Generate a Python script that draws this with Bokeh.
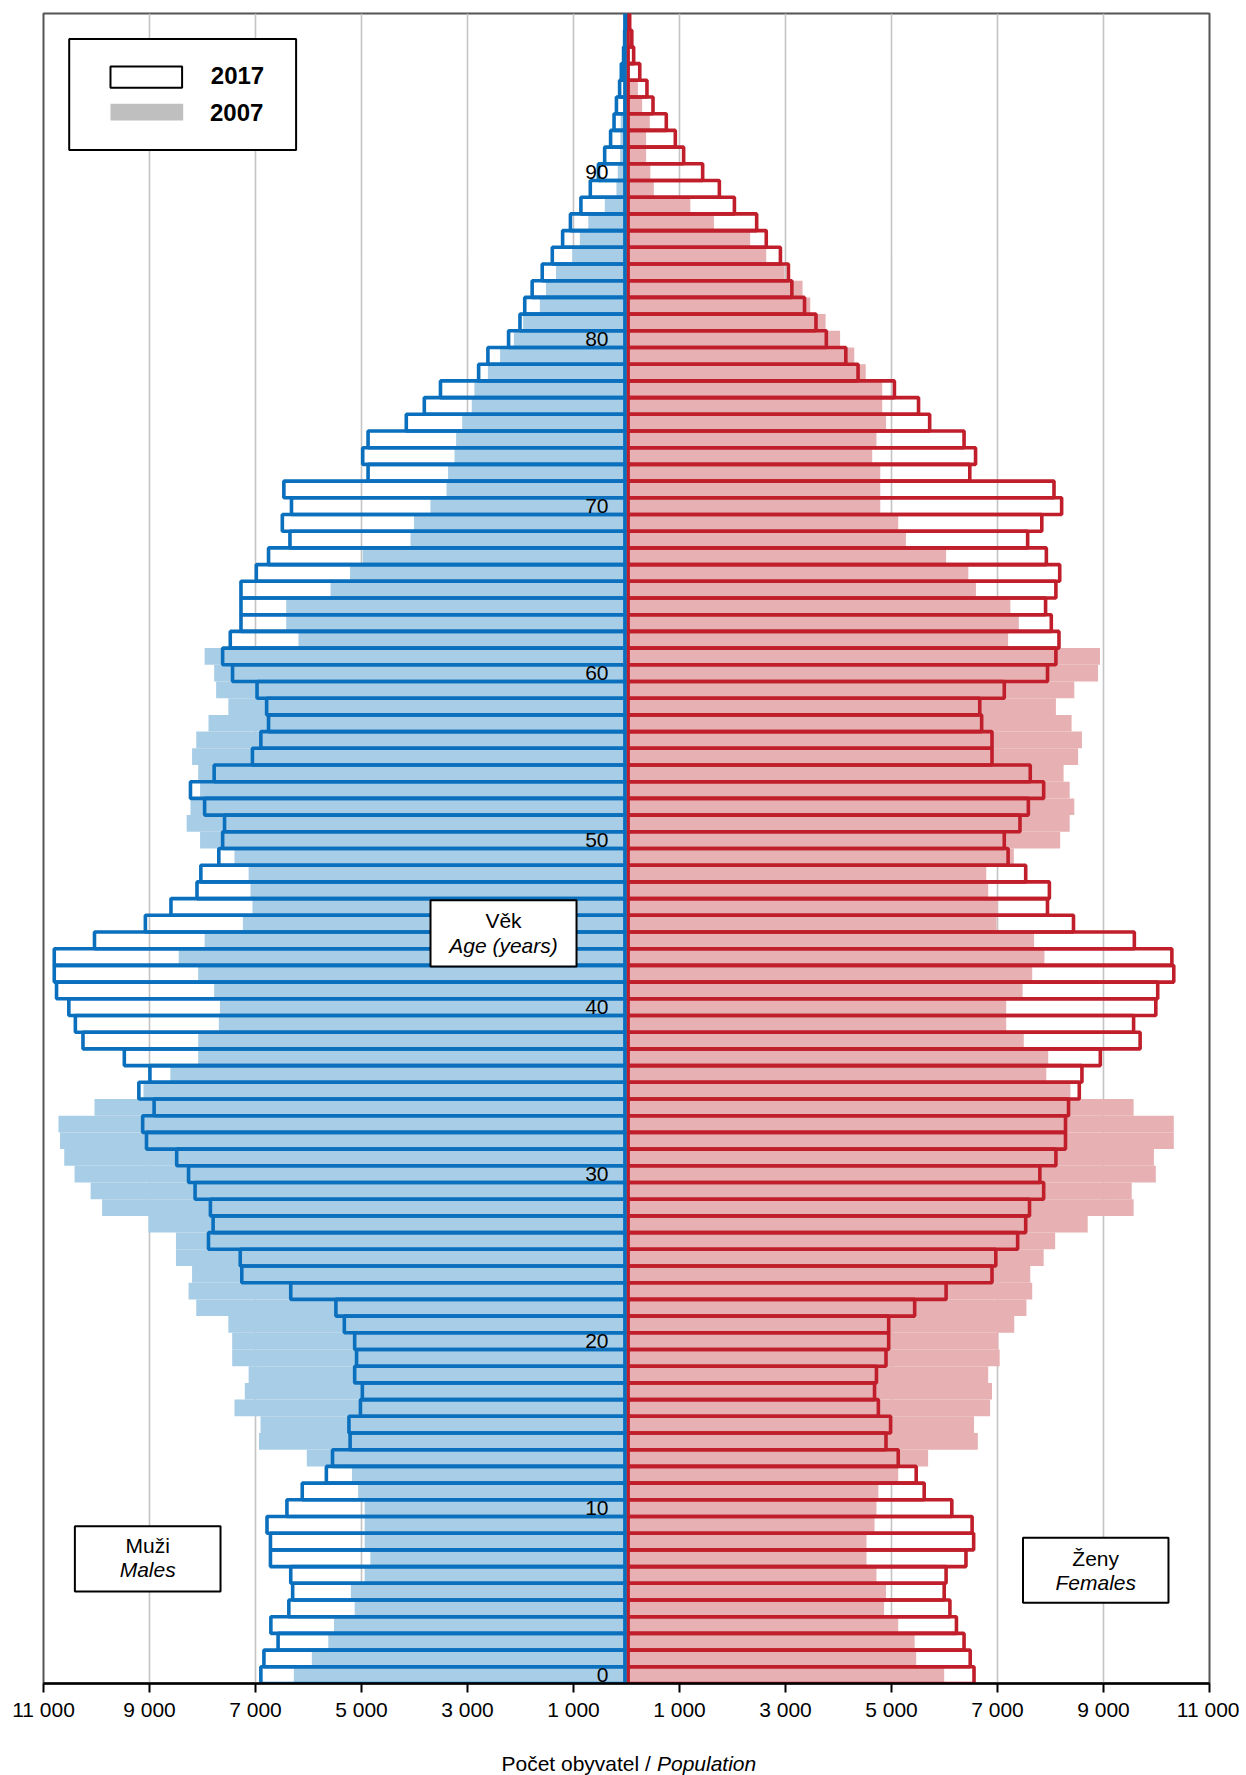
from bokeh.plotting import figure
from bokeh.layouts import column
from bokeh.models import Range1d, FixedTicker, ColumnDataSource, BoxAnnotation, Label
from bokeh.core.properties import value
from bokeh.embed import file_html
from bokeh.resources import INLINE

# ---------------- data ----------------
ages = list(range(100))

male_2017 = [6899, 6841, 6574, 6710, 6371, 6299, 6335, 6718, 6718, 6783,
             6407, 6118, 5663, 5547, 5215, 5237, 5020, 4984, 5129, 5093,
             5129, 5324, 5483, 6335, 7259, 7288, 7887, 7800, 7851, 8140,
             8263, 8487, 9057, 9129, 8913, 9201, 8992, 9475, 10255, 10399,
             10522, 10754, 10797, 10797, 10038, 9078, 8595, 8104, 8031, 7692,
             7620, 7584, 7960, 8227, 7780, 7058, 6899, 6754, 6790, 6971,
             7433, 7620, 7476, 7274, 7274, 7274, 6985, 6754, 6350, 6494,
             6321, 6465, 4876, 4977, 4876, 4155, 3815, 3510, 2790, 2615,
             2225, 2010, 1920, 1780, 1590, 1400, 1205, 1058, 860, 683,
             530, 412, 300, 235, 190, 130, 98, 55, 35, 20]

male_2007 = [6277, 5937, 5627, 5519, 5129, 5201, 4941, 4833, 4941, 4941,
             4941, 5064, 5180, 6032, 6934, 6905, 7397, 7202, 7130, 7440,
             7440, 7512, 8118, 8263, 8197, 8501, 8501, 9021, 9894, 10111,
             10414, 10609, 10688, 10717, 10038, 9114, 8607, 8082, 8082, 7692,
             7671, 7780, 8082, 8449, 7960, 7238, 7058, 7094, 7130, 7397,
             8046, 8299, 8227, 8046, 8082, 8197, 8118, 7887, 7512, 7743,
             7780, 7960, 6190, 6421, 6421, 5584, 5216, 4977, 4075, 4010,
             3699, 3396, 3367, 3245, 3215, 3100, 2920, 2870, 2615, 2385,
             2125, 1950, 1635, 1520, 1330, 1025, 880, 720, 410, 190,
             165, 120, 115, 110, 60, 35, 20, 10, 5, 2]

female_2017 = [6557, 6485, 6369, 6225, 6102, 5994, 6030, 6405, 6550, 6521,
               6138, 5617, 5466, 5127, 4896, 4983, 4752, 4680, 4716, 4896,
               4947, 4947, 5437, 6030, 6896, 6968, 7380, 7532, 7604, 7871,
               7799, 8102, 8283, 8283, 8340, 8543, 8593, 8940, 9691, 9568,
               9987, 10023, 10326, 10290, 9582, 8434, 7943, 7979, 7532, 7200,
               7128, 7424, 7582, 7871, 7618, 6896, 6896, 6701, 6665, 7128,
               7944, 8102, 8160, 8015, 7907, 8102, 8174, 7922, 7569, 7836,
               8210, 8066, 6477, 6586, 6369, 5720, 5510, 5055, 4369, 4138,
               3770, 3575, 3359, 3120, 3055, 2904, 2637, 2456, 2036, 1752,
               1437, 1078, 921, 751, 500, 386, 250, 135, 100, 60]

female_2007 = [5994, 5466, 5437, 5127, 4860, 4896, 4716, 4528, 4528, 4680,
               4716, 4752, 5127, 5691, 6629, 6557, 6860, 6896, 6824, 7041,
               7019, 7316, 7546, 7655, 7618, 7871, 8088, 8702, 9568, 9532,
               9987, 9951, 10326, 10326, 9568, 8376, 7921, 7957, 7496, 7164,
               7164, 7474, 7655, 7885, 7690, 6983, 7004, 6824, 6788, 7308,
               8182, 8362, 8449, 8362, 8247, 8521, 8593, 8398, 8102, 8449,
               8897, 8933, 7200, 7402, 7243, 6593, 6449, 6030, 5272, 5127,
               4788, 4788, 4788, 4636, 4716, 4897, 4825, 4825, 4514, 4297,
               4030, 3756, 3467, 3322, 2983, 2637, 2333, 1650, 1205, 515,
               450, 370, 370, 440, 295, 215, 60, 25, 12, 5]

age_ticks = [0, 10, 20, 30, 40, 50, 60, 70, 80, 90]
x_ticks = [-11000, -9000, -7000, -5000, -3000, -1000, 1000, 3000, 5000, 7000, 9000, 11000]
x_tick_labels = ["11 000", "9 000", "7 000", "5 000", "3 000", "1 000",
                 "1 000", "3 000", "5 000", "7 000", "9 000", "11 000"]
legend_labels = ["2017", "2007"]
x_title_parts = ["Počet obyvatel /", "Population"]

# ---------------- styles ----------------
FONT = "Liberation Sans"
BLUE = "#0a6fbd"
LIGHT_BLUE = "#a8cee7"
RED = "#c01e2a"
PINK = "#e7b0b3"
GAP = 30  # small gap so both centre lines are visible

LEFT, RIGHT, FW = 43, 30, 1166

src = ColumnDataSource(dict(
    y=[a + 0.5 for a in ages],
    m17=[-v for v in male_2017],
    m07=[-v for v in male_2007],
    f17=female_2017,
    f07=female_2007,
))

xr = Range1d(-11000, 11000)
p = figure(frame_width=FW, frame_height=1670,
           x_range=xr, y_range=Range1d(0, 100),
           output_backend="svg", toolbar_location=None,
           min_border_left=LEFT, min_border_top=13, min_border_right=RIGHT,
           min_border_bottom=48)

p.background_fill_color = "white"
p.border_fill_color = "white"
p.outline_line_color = "#555555"
p.outline_line_width = 2

# grid
p.ygrid.visible = False
p.xgrid.ticker = FixedTicker(ticks=x_ticks)
p.xgrid.grid_line_color = "#c4c4c4"
p.xgrid.grid_line_width = 1.6

# axes
p.yaxis.visible = False
ax = p.xaxis[0]
ax.ticker = FixedTicker(ticks=x_ticks, minor_ticks=[])
ax.major_label_overrides = {t: l for t, l in zip(x_ticks, x_tick_labels)}
ax.major_label_text_font = FONT
ax.major_label_text_font_size = "21px"
ax.major_label_text_color = "black"
ax.major_label_standoff = 5
ax.axis_line_color = "black"
ax.axis_line_width = 2.5
ax.major_tick_line_color = "black"
ax.major_tick_line_width = 2
ax.major_tick_in = 0
ax.major_tick_out = 9
ax.minor_tick_line_color = None

# 2007 filled bars
p.hbar(y="y", height=1, left="m07", right=0, source=src,
       fill_color=LIGHT_BLUE, line_color=None)
p.hbar(y="y", height=1, left=0, right="f07", source=src,
       fill_color=PINK, line_color=None)

# 2017 outline bars
p.hbar(y="y", height=1, left=GAP, right="f17", source=src,
       fill_alpha=0, line_color=RED, line_width=3.6)
p.hbar(y="y", height=1, left="m17", right=-GAP, source=src,
       fill_alpha=0, line_color=BLUE, line_width=3.6)

# age labels along the centre
age_src = ColumnDataSource(dict(x=[0] * len(age_ticks),
                                y=[a + 0.5 for a in age_ticks],
                                t=[str(a) for a in age_ticks]))
p.text(x="x", y="y", text="t", source=age_src, x_offset=-18,
       text_align="right", text_baseline="middle",
       text_font=value(FONT), text_font_size="21px", text_color="black")

# ---------------- annotation boxes ----------------
def box(l, r, t, b, fill="white", line="black", lw=2):
    p.add_layout(BoxAnnotation(left=l, right=r, top=t, bottom=b,
                               fill_color=fill, fill_alpha=1,
                               line_color=line, line_width=lw, line_alpha=1))

def lab(x, y, text, style="normal", size="21px", align="center"):
    p.add_layout(Label(x=x, y=y, text=text, text_align=align,
                       text_baseline="middle", text_font=FONT,
                       text_font_size=size, text_font_style=style,
                       text_color="black"))

# legend
box(-10515, -6234, 98.47, 91.82)
box(-9736, -8385, 96.82, 95.56, fill="white", line="black", lw=2)
box(-9736, -8364, 94.6, 93.6, fill="#bfbfbf", line=None, lw=0)
lab(-7843, 96.27, legend_labels[0], style="bold", size="24px", align="left")
lab(-7858, 94.05, legend_labels[1], style="bold", size="24px", align="left")

# Věk / Age box
box(-3698, -943, 46.9, 42.93)
lab(-2321, 45.7, "Věk")
lab(-2321, 44.2, "Age (years)", style="italic")

# Muži / Males
box(-10408, -7660, 9.41, 5.51)
lab(-9034, 8.25, "Muži")
lab(-9034, 6.85, "Males", style="italic")

# Ženy / Females
box(7481, 10226, 8.73, 4.84)
lab(8853, 7.49, "Ženy")
lab(8853, 6.05, "Females", style="italic")

# ---------------- x axis title strip (mixed upright / italic) ----------------
t = figure(frame_width=FW, frame_height=44, x_range=xr, y_range=Range1d(0, 44),
           output_backend="svg", toolbar_location=None,
           min_border_left=LEFT, min_border_right=RIGHT,
           min_border_top=0, min_border_bottom=0)
t.axis.visible = False
t.grid.visible = False
t.outline_line_color = None
t.background_fill_color = "white"
t.border_fill_color = "white"
tsrc_a = ColumnDataSource(dict(x=[460], y=[12], s=[x_title_parts[0]]))
tsrc_b = ColumnDataSource(dict(x=[575], y=[12], s=[x_title_parts[1]]))
t.text(x="x", y="y", text="s", source=tsrc_a, text_align="right",
       text_baseline="middle", text_font=value(FONT), text_font_size="21px",
       text_color="black")
t.text(x="x", y="y", text="s", source=tsrc_b, text_align="left",
       text_baseline="middle", text_font=value(FONT), text_font_size="21px",
       text_font_style="italic", text_color="black")

layout = column(p, t, spacing=0)
open("out.html", "w").write(file_html(layout, INLINE))
